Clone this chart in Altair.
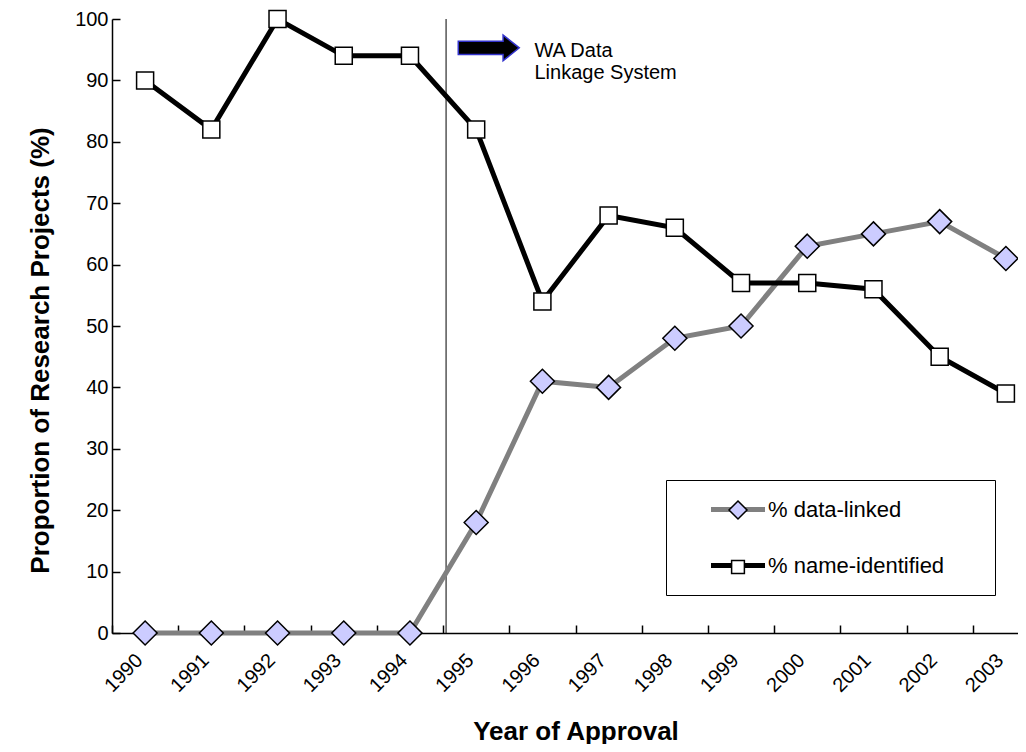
import altair as alt
import pandas as pd

years = [str(y) for y in range(1990, 2004)]
data_linked = [0, 0, 0, 0, 0, 18, 41, 40, 48, 50, 63, 65, 67, 61]
name_identified = [90, 82, 100, 94, 94, 82, 54, 68, 66, 57, 57, 56, 45, 39]
series_names = ["% data-linked", "% name-identified"]
marker_keys = ["m-data-linked", "m-name-identified"]
y_ticks = list(range(0, 101, 10))

annot_year = ["1995"]
annot_text_year = ["1996"]
annot_text = ["WA Data", "Linkage System"]

rows = []
for s, m, vals in zip(series_names, marker_keys, [data_linked, name_identified]):
    for yr, v in zip(years, vals):
        rows.append({"year": yr, "series": s, "series_m": m, "value": v})
df = pd.DataFrame(rows)

FONT = "Liberation Sans"
DIAMOND = "M0,-1L1,0L0,1L-1,0Z"
SQUARE = "M-0.71,-0.71L0.71,-0.71L0.71,0.71L-0.71,0.71Z"
ARROW = "M-1,-0.22L0.47,-0.22L0.47,-0.42L1,0L0.47,0.42L0.47,0.22L-1,0.22Z"
PAD = "\u2800" * 2

xscale = alt.Scale(type="band", paddingInner=0, paddingOuter=0, range=[0, 927], domain=years)
yscale = alt.Scale(domain=[0, 100], nice=False)

x_enc = alt.X(
    "year:N",
    scale=xscale,
    axis=alt.Axis(
        title="Year of Approval",
        titleFont=FONT, titleFontSize=26, titleFontWeight="bold", titleColor="black",
        titleY=106, titleBaseline="alphabetic",
        labelFont=FONT, labelFontSize=20, labelColor="black",
        labelAngle=315, labelAlign="right", labelBaseline="middle",
        labelPadding=32, labelOffset=-6,
        tickBand="extent", tickSize=alt.ExprRef("-8"), tickColor="black", tickWidth=1.5,
        domainColor="black", domainWidth=1.5, grid=False,
    ),
)
y_enc = alt.Y(
    "value:Q",
    scale=yscale,
    axis=alt.Axis(
        title="Proportion of Research Projects (%)",
        titleFont=FONT, titleFontSize=26, titleFontWeight="bold", titleColor="black",
        titleAngle=270, titleX=-72, titleY=331, titleAlign="center", titleBaseline="middle",
        values=y_ticks, labelFont=FONT, labelFontSize=20, labelColor="black",
        labelPadding=12,
        tickSize=alt.ExprRef("-8"), tickColor="black", tickWidth=1.5,
        domainColor="black", domainWidth=1.5, grid=False,
    ),
)

leg_line = alt.Legend(
    title=None, orient="none", legendX=554, legendY=461, direction="vertical",
    symbolType="M-3,0L3,0", symbolSize=324, symbolStrokeWidth=5,
    symbolOffset=42.5, labelOffset=18.5, labelFont=FONT, labelFontSize=22, labelColor="black",
    labelLimit=400, rowPadding=33, padding=18, strokeColor="black", fillColor="white",
    labelExpr="datum.label + '" + PAD + "'",
    zindex=1,
)
leg_mark = alt.Legend(
    title=None, orient="none", legendX=554, legendY=462, direction="vertical",
    symbolSize=324, symbolStrokeWidth=1.5, symbolOpacity=1,
    symbolOffset=43, labelExpr="''", labelFont=FONT, labelFontSize=22,
    rowPadding=34, padding=18, zindex=2,
)

base = alt.Chart(df)

lines = base.mark_line(strokeWidth=5).encode(
    x=x_enc, y=y_enc,
    color=alt.Color("series:N", scale=alt.Scale(domain=series_names, range=["#808080", "#000000"]), legend=leg_line),
    detail="series:N",
)
points = base.mark_point(filled=True, size=576, strokeWidth=1.5, opacity=1).encode(
    x=x_enc, y=y_enc,
    fill=alt.Fill("series_m:N", scale=alt.Scale(domain=marker_keys, range=["#ccccff", "#ffffff"]), legend=leg_mark),
    stroke=alt.Stroke("series_m:N", scale=alt.Scale(domain=marker_keys, range=["#000000", "#000000"]), legend=leg_mark),
    shape=alt.Shape("series_m:N", scale=alt.Scale(domain=marker_keys, range=[DIAMOND, SQUARE]), legend=leg_mark),
)

ann_df = pd.DataFrame({"year": annot_year, "top": [100], "bottom": [0], "arrow_y": [95.3]})
vline = alt.Chart(ann_df).mark_rule(color="black", strokeWidth=1, xOffset=3).encode(
    x=alt.X("year:N", bandPosition=0, scale=xscale),
    y=alt.Y("top:Q", scale=yscale),
    y2="bottom:Q",
)
arrow = alt.Chart(ann_df).mark_point(
    shape=ARROW, size=3721, filled=True, fill="black", stroke="#3333cc", strokeWidth=1.5, opacity=1
).encode(
    x=alt.X("year:N", bandPosition=0.69, scale=xscale),
    y=alt.Y("arrow_y:Q", scale=yscale),
)
txt_df = pd.DataFrame({"year": annot_text_year, "ty": [94.8], "label": [annot_text]})
text = alt.Chart(txt_df).mark_text(
    align="left", baseline="middle", font=FONT, fontSize=20, lineHeight=22, color="black"
).encode(
    x=alt.X("year:N", bandPosition=0.38, scale=xscale),
    y=alt.Y("ty:Q", scale=yscale),
    text="label",
)

chart = alt.layer(vline, lines, points, arrow, text).properties(
    width=906, height=614,
    autosize=alt.AutoSizeParams(type="none"),
    padding={"left": 104, "top": 11, "right": 0, "bottom": 111},
    background="white",
).configure_view(stroke=None)

chart.save("out.html", embed_options={"renderer": "svg", "actions": False})
